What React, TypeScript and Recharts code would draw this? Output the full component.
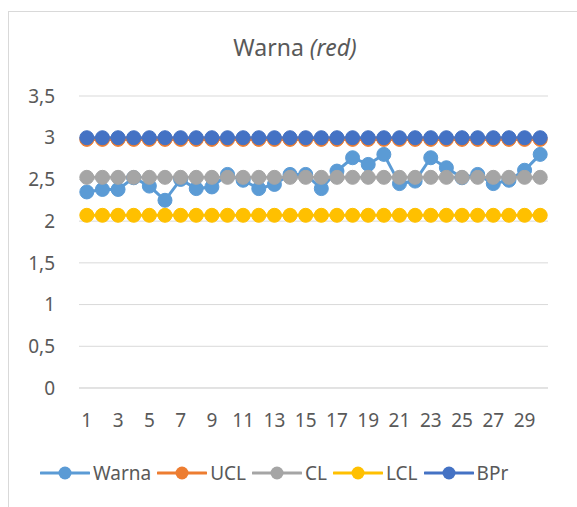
import React from 'react';
import { LineChart, Line, XAxis, YAxis, CartesianGrid, Legend } from 'recharts';

const samples = Array.from({ length: 30 }, (_, i) => String(i + 1));
const warna = [
  2.35, 2.38, 2.38, 2.52, 2.42, 2.25, 2.5, 2.39, 2.41, 2.56,
  2.49, 2.39, 2.44, 2.56, 2.56, 2.39, 2.6, 2.76, 2.68, 2.8,
  2.45, 2.48, 2.76, 2.64, 2.52, 2.56, 2.45, 2.49, 2.61, 2.8,
];
const ucl = 2.98;
const cl = 2.525;
const lcl = 2.07;
const bpr = 3;
const yTicks = [0, 0.5, 1, 1.5, 2, 2.5, 3, 3.5];

const series = [
  { key: 'Warna', color: '#5B9BD5' },
  { key: 'UCL', color: '#ED7D31' },
  { key: 'CL', color: '#A5A5A5' },
  { key: 'LCL', color: '#FFC000' },
  { key: 'BPr', color: '#4472C4' },
];
const seriesOrder = series.map((s) => s.key);

const data = samples.map((x, i) => ({
  x,
  Warna: warna[i],
  UCL: ucl,
  CL: cl,
  LCL: lcl,
  BPr: bpr,
}));

const FONT = '"Noto Sans", sans-serif';
const TEXT = '#595959';

const fmt = (v: number) => String(v).replace('.', ',');

function LegendContent({ payload }: any) {
  // keep the series order instead of the default alphabetical one
  const items = [...(payload || [])].sort(
    (a: any, b: any) => seriesOrder.indexOf(a.value) - seriesOrder.indexOf(b.value)
  );
  return (
    <div style={{ display: 'flex', alignItems: 'center', paddingLeft: 40, height: 24 }}>
      {items.map((p: any) => (
        <div key={p.value} style={{ display: 'flex', alignItems: 'center', marginRight: 6 }}>
          <svg width={50} height={16}>
            <line x1={1} y1={8} x2={49} y2={8} stroke={p.color} strokeWidth={3} strokeLinecap="round" />
            <circle cx={25} cy={8} r={6.5} fill={p.color} />
          </svg>
          <span style={{ fontFamily: FONT, fontSize: 19, color: TEXT, marginLeft: 3, lineHeight: '24px' }}>
            {p.value}
          </span>
        </div>
      ))}
    </div>
  );
}

export default function App() {
  return (
    <div style={{ position: 'absolute', left: 0, top: 0, width: 577, height: 507, background: '#fff', overflow: 'hidden' }}>
      <div
        style={{
          position: 'absolute',
          left: 8,
          top: 11,
          width: 620,
          height: 560,
          borderLeft: '1px solid #d9d9d9',
          borderTop: '1px solid #d9d9d9',
        }}
      />
      <LineChart
        width={577}
        height={507}
        data={data}
        margin={{ top: 96, right: 29, bottom: 35, left: 0 }}
        style={{ position: 'absolute', left: 0, top: 0 }}
      >
        <text x={295} y={56} textAnchor="middle" fontFamily={FONT} fontSize={23} fill={TEXT}>
          Warna <tspan fontStyle="italic">(red)</tspan>
        </text>
        <CartesianGrid vertical={false} stroke="#d9d9d9" strokeWidth={1} />
        <XAxis
          dataKey="x"
          interval={1}
          height={60}
          padding={{ left: 7.8, right: 7.8 }}
          axisLine={{ stroke: '#d9d9d9' }}
          tickLine={false}
          tickSize={6}
          tickMargin={20}
          tick={{ fontFamily: FONT, fontSize: 19, fill: TEXT }}
        />
        <YAxis
          width={79}
          domain={[0, 3.5]}
          ticks={yTicks}
          tickFormatter={fmt}
          axisLine={false}
          tickLine={false}
          tickSize={6}
          tickMargin={18}
          tick={{ fontFamily: FONT, fontSize: 19, fill: TEXT }}
        />
        <Legend
          verticalAlign="bottom"
          content={<LegendContent />}
          wrapperStyle={{ height: 24, bottom: 22 }}
        />
        {series.map((s) => (
          <Line
            key={s.key}
            dataKey={s.key}
            stroke={s.color}
            strokeWidth={3}
            dot={{ r: 7, fill: s.color, stroke: s.color, strokeWidth: 1 }}
            activeDot={false}
            isAnimationActive={false}
          />
        ))}
      </LineChart>
    </div>
  );
}
